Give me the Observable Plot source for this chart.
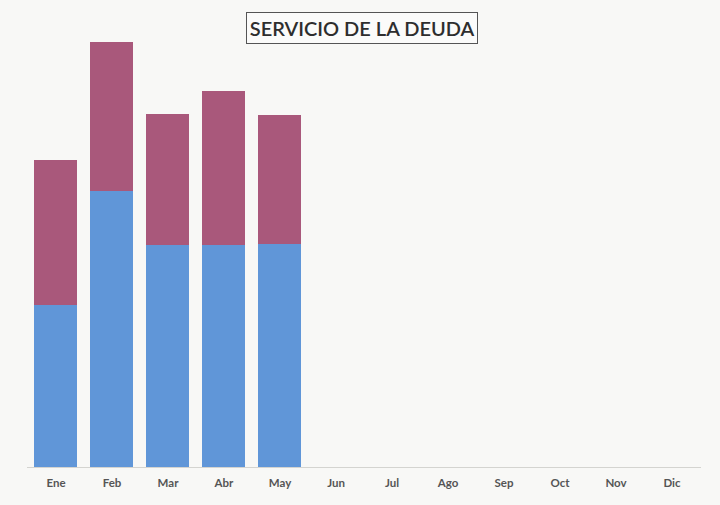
<!DOCTYPE html>
<html>
<head>
<meta charset="utf-8">
<script src="https://cdn.jsdelivr.net/npm/d3@7"></script>
<script src="https://cdn.jsdelivr.net/npm/@observablehq/plot@0.6"></script>
<style>
  html, body { margin: 0; padding: 0; background: #f8f8f6; }
  #wrap { position: relative; width: 720px; height: 505px; overflow: hidden; }
  #title {
    position: absolute; left: 246px; top: 12px; width: 232px; height: 32px;
    border: 1px solid #555; box-sizing: border-box; white-space: nowrap;
    font-family: Lato, "Open Sans", sans-serif; font-size: 20px; font-weight: 600; color: #2e2e2e;
    text-align: center; line-height: 30px; background: #fbfbfa;
  }
</style>
</head>
<body>
<div id="wrap"><div id="title">SERVICIO DE LA DEUDA</div></div>
<script>
const months = ["Ene","Feb","Mar","Abr","May","Jun","Jul","Ago","Sep","Oct","Nov","Dic"];
const dataMonths = ["Ene","Feb","Mar","Abr","May"];
const serieAzul = [162, 276, 222, 222, 223];
const serieRosa = [145, 149, 131, 154, 129];
const seriesNames = ["Azul","Rosa"];
const colors = ["#6096d8","#a9587b"];

const rows = [];
dataMonths.forEach((m, i) => {
  rows.push({mes: m, serie: seriesNames[0], valor: serieAzul[i]});
  rows.push({mes: m, serie: seriesNames[1], valor: serieRosa[i]});
});

const chart = Plot.plot({
  width: 720,
  height: 505,
  marginTop: 25,
  marginBottom: 38,
  marginLeft: 27,
  marginRight: 19,
  style: {background: "transparent", fontFamily: "Lato, 'Open Sans', sans-serif"},
  x: {domain: months, paddingInner: 0.23, paddingOuter: 0.115, label: null},
  y: {domain: [0, 442], axis: null},
  color: {domain: seriesNames, range: colors},
  marks: [
    Plot.barY(rows, Plot.stackY({x: "mes", y: "valor", fill: "serie", order: seriesNames})),
    Plot.ruleY([0], {stroke: "#d4d4d0", strokeWidth: 1}),
    Plot.axisX({domain: months, tickSize: 0, tickPadding: 11, fontSize: 11.5, fontWeight: "bold", fill: "#555", label: null})
  ]
});
chart.style.position = "absolute";
chart.style.left = "0px";
chart.style.top = "0px";
document.getElementById("wrap").prepend(chart);
</script>
</body>
</html>
